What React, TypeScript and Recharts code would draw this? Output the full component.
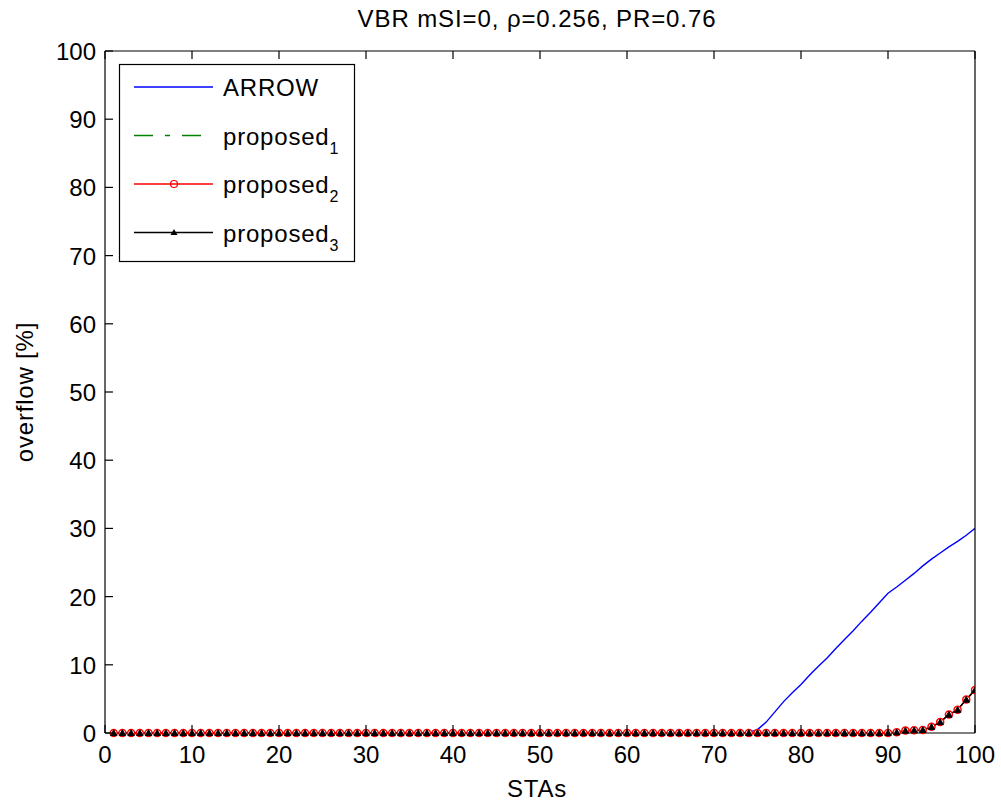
import React from "react";
import { LineChart, Line, XAxis, YAxis } from "recharts";

const TITLE = "VBR mSI=0, \u03c1=0.256, PR=0.76";
const X_LABEL = "STAs";
const Y_LABEL = "overflow [%]";
const X_TICKS = [0, 10, 20, 30, 40, 50, 60, 70, 80, 90, 100];
const Y_TICKS = [0, 10, 20, 30, 40, 50, 60, 70, 80, 90, 100];

const stas = [
  1, 2, 3, 4, 5, 6, 7, 8, 9, 10,
  11, 12, 13, 14, 15, 16, 17, 18, 19, 20,
  21, 22, 23, 24, 25, 26, 27, 28, 29, 30,
  31, 32, 33, 34, 35, 36, 37, 38, 39, 40,
  41, 42, 43, 44, 45, 46, 47, 48, 49, 50,
  51, 52, 53, 54, 55, 56, 57, 58, 59, 60,
  61, 62, 63, 64, 65, 66, 67, 68, 69, 70,
  71, 72, 73, 74, 75, 76, 77, 78, 79, 80,
  81, 82, 83, 84, 85, 86, 87, 88, 89, 90,
  91, 92, 93, 94, 95, 96, 97, 98, 99, 100,
];

const arrow = [
  0, 0, 0, 0, 0, 0, 0, 0, 0, 0,
  0, 0, 0, 0, 0, 0, 0, 0, 0, 0,
  0, 0, 0, 0, 0, 0, 0, 0, 0, 0,
  0, 0, 0, 0, 0, 0, 0, 0, 0, 0,
  0, 0, 0, 0, 0, 0, 0, 0, 0, 0,
  0, 0, 0, 0, 0, 0, 0, 0, 0, 0,
  0, 0, 0, 0, 0, 0, 0, 0, 0, 0,
  0, 0, 0, 0.1, 0.5, 1.6, 3.1, 4.6, 5.9, 7.1,
  8.5, 9.8, 11.0, 12.4, 13.7, 15.0, 16.4, 17.7, 19.1, 20.5,
  21.4, 22.4, 23.4, 24.5, 25.5, 26.4, 27.3, 28.1, 29.0, 30.0,
];

const proposed1 = [
  0, 0, 0, 0, 0, 0, 0, 0, 0, 0,
  0, 0, 0, 0, 0, 0, 0, 0, 0, 0,
  0, 0, 0, 0, 0, 0, 0, 0, 0, 0,
  0, 0, 0, 0, 0, 0, 0, 0, 0, 0,
  0, 0, 0, 0, 0, 0, 0, 0, 0, 0,
  0, 0, 0, 0, 0, 0, 0, 0, 0, 0,
  0, 0, 0, 0, 0, 0, 0, 0, 0, 0,
  0, 0, 0, 0, 0, 0, 0, 0, 0, 0,
  0, 0, 0, 0, 0, 0, 0, 0, 0, 0,
  0.1, 0.35, 0.4, 0.45, 0.9, 1.6, 2.7, 3.4, 4.9, 6.3,
];

const proposed2 = [
  0, 0, 0, 0, 0, 0, 0, 0, 0, 0,
  0, 0, 0, 0, 0, 0, 0, 0, 0, 0,
  0, 0, 0, 0, 0, 0, 0, 0, 0, 0,
  0, 0, 0, 0, 0, 0, 0, 0, 0, 0,
  0, 0, 0, 0, 0, 0, 0, 0, 0, 0,
  0, 0, 0, 0, 0, 0, 0, 0, 0, 0,
  0, 0, 0, 0, 0, 0, 0, 0, 0, 0,
  0, 0, 0, 0, 0, 0, 0, 0, 0, 0,
  0, 0, 0, 0, 0, 0, 0, 0, 0, 0,
  0.1, 0.35, 0.4, 0.45, 0.9, 1.6, 2.7, 3.4, 4.9, 6.3,
];

const proposed3 = [
  0, 0, 0, 0, 0, 0, 0, 0, 0, 0,
  0, 0, 0, 0, 0, 0, 0, 0, 0, 0,
  0, 0, 0, 0, 0, 0, 0, 0, 0, 0,
  0, 0, 0, 0, 0, 0, 0, 0, 0, 0,
  0, 0, 0, 0, 0, 0, 0, 0, 0, 0,
  0, 0, 0, 0, 0, 0, 0, 0, 0, 0,
  0, 0, 0, 0, 0, 0, 0, 0, 0, 0,
  0, 0, 0, 0, 0, 0, 0, 0, 0, 0,
  0, 0, 0, 0, 0, 0, 0, 0, 0, 0,
  0.1, 0.35, 0.4, 0.45, 0.9, 1.6, 2.7, 3.4, 4.9, 6.3,
];

const data = stas.map((s, i) => ({
  sta: s,
  arrow: arrow[i],
  p1: proposed1[i],
  p2: proposed2[i],
  p3: proposed3[i],
}));

const FONT = "'Liberation Sans', Arial, sans-serif";
const FS = 24;
const TICK_LEN = 8;
const DASH_DOT = "19 12 5 12";

const BottomTick = (props: any) => {
  const { x, y, payload } = props;
  return (
    <g>
      <line x1={x} y1={y} x2={x} y2={y - TICK_LEN} stroke="#000" strokeWidth={1.2} />
      <text x={x} y={y + 30} textAnchor="middle" fontFamily={FONT} fontSize={FS} fill="#000">
        {payload.value}
      </text>
    </g>
  );
};

const TopTick = (props: any) => {
  const { x, y } = props;
  return <line x1={x} y1={y} x2={x} y2={y + TICK_LEN} stroke="#000" strokeWidth={1.2} />;
};

const LeftTick = (props: any) => {
  const { x, y, payload } = props;
  return (
    <g>
      <line x1={x} y1={y} x2={x + TICK_LEN} y2={y} stroke="#000" strokeWidth={1.2} />
      <text x={x - 9} y={y + 9} textAnchor="end" fontFamily={FONT} fontSize={FS} fill="#000">
        {payload.value}
      </text>
    </g>
  );
};

const RightTick = (props: any) => {
  const { x, y } = props;
  return <line x1={x} y1={y} x2={x - TICK_LEN} y2={y} stroke="#000" strokeWidth={1.2} />;
};

const TriangleDot = (props: any) => {
  const { cx, cy } = props;
  if (cx == null || cy == null) return null;
  const s = 3.2;
  return (
    <path
      d={`M${cx},${cy - s} L${cx + s},${cy + s * 0.8} L${cx - s},${cy + s * 0.8} Z`}
      fill="#000"
      stroke="#000"
      strokeWidth={1}
    />
  );
};

const legendItems = [
  { label: "ARROW", sub: "", color: "#0000ff", dash: undefined as string | undefined, marker: "none" },
  { label: "proposed", sub: "1", color: "#008000", dash: DASH_DOT, marker: "none" },
  { label: "proposed", sub: "2", color: "#ff0000", dash: undefined, marker: "circle" },
  { label: "proposed", sub: "3", color: "#000000", dash: undefined, marker: "triangle" },
];

const LegendBox = ({ x, y }: { x: number; y: number }) => (
  <g transform={`translate(${x},${y})`}>
    <rect x={0.5} y={0.5} width={235} height={197} fill="#fff" stroke="#000" strokeWidth={1.2} />
    {legendItems.map((it, i) => {
      const cy = 23 + i * 48.5;
      return (
        <g key={i}>
          <line x1={15} y1={cy} x2={94} y2={cy} stroke={it.color} strokeWidth={1.4} strokeDasharray={it.dash} />
          {it.marker === "circle" && (
            <circle cx={55} cy={cy} r={3.5} fill="none" stroke={it.color} strokeWidth={1.2} />
          )}
          {it.marker === "triangle" && (
            <path d={`M55,${cy - 3.5} L58.5,${cy + 2.5} L51.5,${cy + 2.5} Z`} fill="#000" />
          )}
          <text x={104} y={cy + 9} fontFamily={FONT} fontSize={FS} letterSpacing={0.8} fill="#000">
            {it.label}
            {it.sub && (
              <tspan fontSize={16} dy={9}>
                {it.sub}
              </tspan>
            )}
          </text>
        </g>
      );
    })}
  </g>
);

export default function App() {
  return (
    <div style={{ position: "absolute", left: 0, top: 0, width: 1001, height: 810, background: "#fff" }}>
      <LineChart
        width={1001}
        height={810}
        data={data}
        margin={{ top: 50, right: 25, left: 0, bottom: 0 }}
        style={{ background: "#fff" }}
      >
        <XAxis
          dataKey="sta"
          type="number"
          domain={[0, 100]}
          ticks={X_TICKS}
          height={77}
          tickSize={0}
          tickMargin={0}
          tick={<BottomTick />}
          axisLine={{ stroke: "#000", strokeWidth: 1.2 }}
          tickLine={false}
          interval={0}
          allowDataOverflow
        />
        <XAxis
          xAxisId="top"
          dataKey="sta"
          type="number"
          orientation="top"
          domain={[0, 100]}
          ticks={X_TICKS}
          height={1}
          tickSize={0}
          tickMargin={0}
          tick={<TopTick />}
          axisLine={{ stroke: "#000", strokeWidth: 1.2 }}
          tickLine={false}
          interval={0}
        />
        <YAxis
          type="number"
          domain={[0, 100]}
          ticks={Y_TICKS}
          width={105}
          tickSize={0}
          tickMargin={0}
          tick={<LeftTick />}
          axisLine={{ stroke: "#000", strokeWidth: 1.2 }}
          tickLine={false}
          interval={0}
        />
        <YAxis
          yAxisId="right"
          orientation="right"
          type="number"
          domain={[0, 100]}
          ticks={Y_TICKS}
          width={1}
          tickSize={0}
          tickMargin={0}
          tick={<RightTick />}
          axisLine={{ stroke: "#000", strokeWidth: 1.2 }}
          tickLine={false}
          interval={0}
        />
        <Line
          dataKey="arrow"
          stroke="#0000ff"
          strokeWidth={1.4}
          dot={false}
          isAnimationActive={false}
          type="linear"
        />
        <Line
          dataKey="p1"
          stroke="#008000"
          strokeWidth={1.4}
          strokeDasharray={DASH_DOT}
          dot={false}
          isAnimationActive={false}
          type="linear"
        />
        <Line
          dataKey="p2"
          stroke="#ff0000"
          strokeWidth={1.4}
          dot={{ r: 3.5, stroke: "#ff0000", strokeWidth: 1.5, fill: "#fff" }}
          isAnimationActive={false}
          type="linear"
        />
        <Line
          dataKey="p3"
          stroke="#000000"
          strokeWidth={1.4}
          dot={<TriangleDot />}
          isAnimationActive={false}
          type="linear"
        />
        <LegendBox x={119} y={64} />
        <text x={537} y={27} textAnchor="middle" fontFamily={FONT} fontSize={FS} letterSpacing={0.9} fill="#000">
          {TITLE}
        </text>
        <text x={537} y={797} textAnchor="middle" fontFamily={FONT} fontSize={FS} letterSpacing={0.8} fill="#000">
          {X_LABEL}
        </text>
        <text
          x={33}
          y={392}
          textAnchor="middle"
          fontFamily={FONT}
          fontSize={FS}
          letterSpacing={0.8}
          fill="#000"
          transform="rotate(-90 33 392)"
        >
          {Y_LABEL}
        </text>
      </LineChart>
    </div>
  );
}
